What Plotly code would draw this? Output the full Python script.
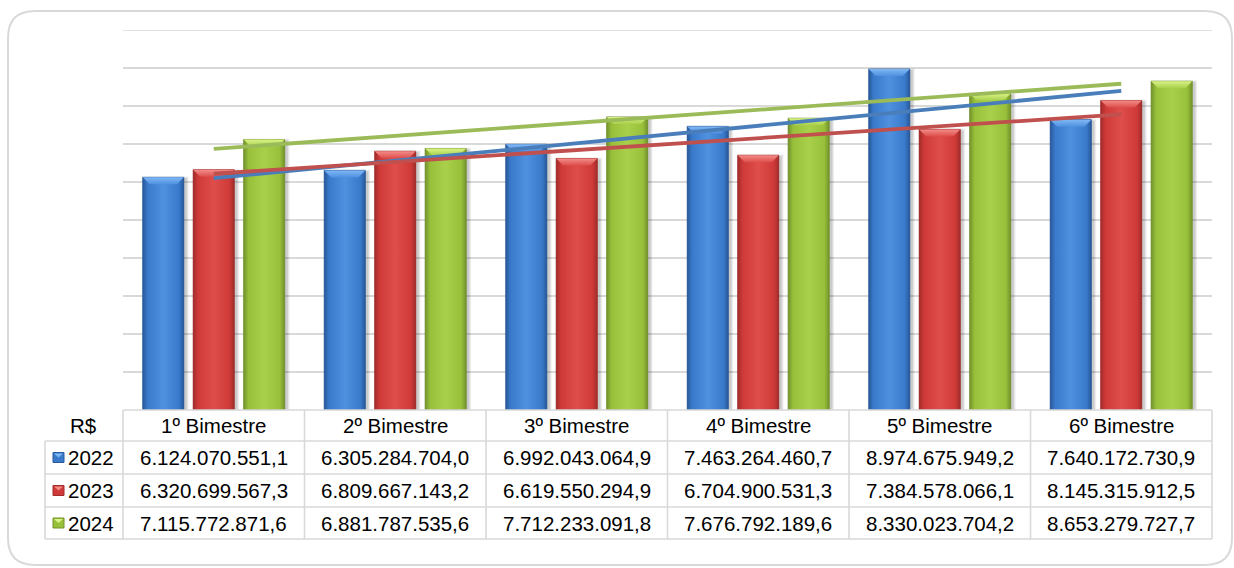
import numpy as np
import plotly.graph_objects as go

# ---- data -------------------------------------------------------------
categories = ["1º Bimestre", "2º Bimestre", "3º Bimestre",
              "4º Bimestre", "5º Bimestre", "6º Bimestre"]
years = ["2022", "2023", "2024"]
values_2022 = [6124070551.1, 6305284704.0, 6992043064.9,
               7463264460.7, 8974675949.2, 7640172730.9]
values_2023 = [6320699567.3, 6809667143.2, 6619550294.9,
               6704900531.3, 7384578066.1, 8145315912.5]
values_2024 = [7115772871.6, 6881787535.6, 7712233091.8,
               7676792189.6, 8330023704.2, 8653279727.7]
series = [values_2022, values_2023, values_2024]
unit_label = "R$"

# ---- styling ----------------------------------------------------------
W, H = 1234, 568
FONT = "Liberation Sans, Arial, sans-serif"
FSIZE = 20.5
GRID = "#d9d9d9"
# (edge, face, highlight, bevel top, trend line)
palette = [
    ("#29599a", "#3a7acb", "#4f90df", "#80b8f4", "#4a7ebb"),
    ("#a02d2b", "#cf3a38", "#de4e4b", "#f28d8a", "#c0504d"),
    ("#73922d", "#98c03a", "#a9d04b", "#daf388", "#9bbb59"),
]

# plot area in pixels
PX_L, PX_R, PX_T, PX_B = 123, 1212, 30, 410
Y_MAX = 1e10
n_cat = len(categories)
cat_px = (PX_R - PX_L) / n_cat
offsets = [-0.278, 0.0, 0.278]
bar_w = 0.226


def px(x):
    return x / W


def py(y):
    return 1 - y / H


fig = go.Figure()

ypp = Y_MAX / (PX_B - PX_T)          # data units per pixel (y)
xpp = 1 / cat_px                     # data units per pixel (x)
bevel_y = 7 * ypp
bevel_x = 7 * xpp
xs = np.arange(n_cat)

for s, (vals, yr) in enumerate(zip(series, years)):
    edge, face, hi, top, _ = palette[s]
    # logical bars
    fig.add_trace(go.Bar(
        x=xs, y=vals, offset=offsets[s] - bar_w / 2, width=bar_w,
        marker=dict(color=face, line=dict(width=0)), name=yr,
        showlegend=False, hoverinfo="skip"))
    for i, v in enumerate(vals):
        x0 = i + offsets[s] - bar_w / 2
        x1 = i + offsets[s] + bar_w / 2
        # soft drop shadow
        for k, a in ((3, 0.05), (2, 0.07), (1, 0.09)):
            dx, dy = k * xpp, k * ypp
            sx = 2 * xpp
            fig.add_trace(go.Scatter(
                x=[x0 - dx + sx, x1 + dx + sx, x1 + dx + sx, x0 - dx + sx, x0 - dx + sx],
                y=[0, 0, v + dy - 2 * ypp, v + dy - 2 * ypp, 0],
                mode="lines", line=dict(width=0), fill="toself",
                fillcolor=f"rgba(0,0,0,{a})", showlegend=False, hoverinfo="skip"))
        # cylindrical front face
        fig.add_trace(go.Scatter(
            x=[x0, x1, x1, x0, x0], y=[0, 0, v, v, 0],
            mode="lines", line=dict(width=0.8, color=edge), fill="toself",
            fillgradient=dict(type="horizontal", colorscale=[
                [0, edge], [0.12, face], [0.5, hi], [0.88, face], [1, edge]]),
            showlegend=False, hoverinfo="skip"))
        # bevelled top
        fig.add_trace(go.Scatter(
            x=[x0, x1, x1 - bevel_x, x0 + bevel_x, x0],
            y=[v, v, v - bevel_y, v - bevel_y, v],
            mode="lines", line=dict(width=0), fill="toself",
            fillgradient=dict(type="vertical", colorscale=[[0, hi], [1, top]]),
            showlegend=False, hoverinfo="skip"))

# linear trend lines
for s, vals in enumerate(series):
    slope, icpt = np.polyfit(xs, np.array(vals), 1)
    xt = np.array([0, n_cat - 1])
    fig.add_trace(go.Scatter(
        x=xt, y=slope * xt + icpt, mode="lines",
        line=dict(color=palette[s][4], width=3.8),
        showlegend=False, hoverinfo="skip"))

# ---- data table under the plot ---------------------------------------
shapes = []
annotations = []
LBL_L = 45
rows_y = [410, 441, 474, 507, 539]

# top gridline at the axis maximum
shapes.append(dict(type="line", xref="paper", yref="y",
                   x0=px(PX_L), x1=px(PX_R), y0=Y_MAX, y1=Y_MAX,
                   line=dict(color=GRID, width=1.6), layer="below"))


def hline(x0, x1, y):
    shapes.append(dict(type="line", xref="paper", yref="paper",
                       x0=px(x0), x1=px(x1), y0=py(y), y1=py(y),
                       line=dict(color=GRID, width=1.6)))


def vline(x, y0, y1):
    shapes.append(dict(type="line", xref="paper", yref="paper",
                       x0=px(x), x1=px(x), y0=py(y0), y1=py(y1),
                       line=dict(color=GRID, width=1.6)))


hline(PX_L, PX_R, rows_y[0])
for yv in rows_y[1:]:
    hline(LBL_L, PX_R, yv)
vline(LBL_L, rows_y[1], rows_y[-1])
for c in range(n_cat + 1):
    vline(PX_L + c * cat_px, rows_y[0], rows_y[-1])


def fmt_br(v):
    return f"{v:,.1f}".replace(",", "X").replace(".", ",").replace("X", ".")


def cell_text(x, y, text, xref="paper"):
    annotations.append(dict(x=x, y=py(y), xref=xref, yref="paper",
                            text=text, showarrow=False,
                            font=dict(family=FONT, size=FSIZE, color="#000000"),
                            xanchor="center", yanchor="middle"))


cell_text(px(84), (rows_y[0] + rows_y[1]) / 2, unit_label)
for i, c in enumerate(categories):
    cell_text(i, (rows_y[0] + rows_y[1]) / 2, c, xref="x")

for s, (vals, yr) in enumerate(zip(series, years)):
    yc = (rows_y[s + 1] + rows_y[s + 2]) / 2
    # legend key square
    edge, face, hi, top, _ = palette[s]
    shapes.append(dict(type="rect", xref="paper", yref="paper",
                       x0=px(53), x1=px(64), y0=py(yc + 5), y1=py(yc - 5),
                       fillcolor=face, line=dict(color=edge, width=1)))
    shapes.append(dict(type="path", xref="paper", yref="paper",
                       path=f"M {px(54)},{py(yc - 4)} L {px(63)},{py(yc - 4)} "
                            f"L {px(58.5)},{py(yc)} Z",
                       fillcolor=top, line=dict(width=0)))
    annotations.append(dict(x=px(66), y=py(yc), xref="paper", yref="paper",
                            text=yr, showarrow=False,
                            font=dict(family=FONT, size=FSIZE, color="#000000"),
                            xanchor="left", yanchor="middle"))
    for i, v in enumerate(vals):
        cell_text(i, yc, fmt_br(v), xref="x")

# rounded outer frame
L, T, R, B, r = 8, 11, 1232, 565, 27
frame = (f"M {px(L + r)},{py(T)} L {px(R - r)},{py(T)} "
         f"Q {px(R)},{py(T)} {px(R)},{py(T + r)} "
         f"L {px(R)},{py(B - r)} Q {px(R)},{py(B)} {px(R - r)},{py(B)} "
         f"L {px(L + r)},{py(B)} Q {px(L)},{py(B)} {px(L)},{py(B - r)} "
         f"L {px(L)},{py(T + r)} Q {px(L)},{py(T)} {px(L + r)},{py(T)} Z")
shapes.append(dict(type="path", xref="paper", yref="paper", path=frame,
                   line=dict(color="#d9d9d9", width=2), layer="below"))

fig.update_layout(
    width=W, height=H,
    margin=dict(l=0, r=0, t=0, b=0),
    paper_bgcolor="white", plot_bgcolor="white",
    barmode="overlay",
    showlegend=False,
    xaxis=dict(domain=[px(PX_L), px(PX_R)], range=[-0.5, n_cat - 0.5],
               showticklabels=False, showgrid=False, zeroline=False,
               ticks="", fixedrange=True),
    yaxis=dict(domain=[py(PX_B), py(PX_T)], range=[0, Y_MAX], dtick=1e9,
               showticklabels=False, showgrid=True, gridcolor=GRID,
               gridwidth=1.6, zeroline=False, ticks="", fixedrange=True),
    shapes=shapes,
    annotations=annotations,
)

fig.write_html("out.html")
